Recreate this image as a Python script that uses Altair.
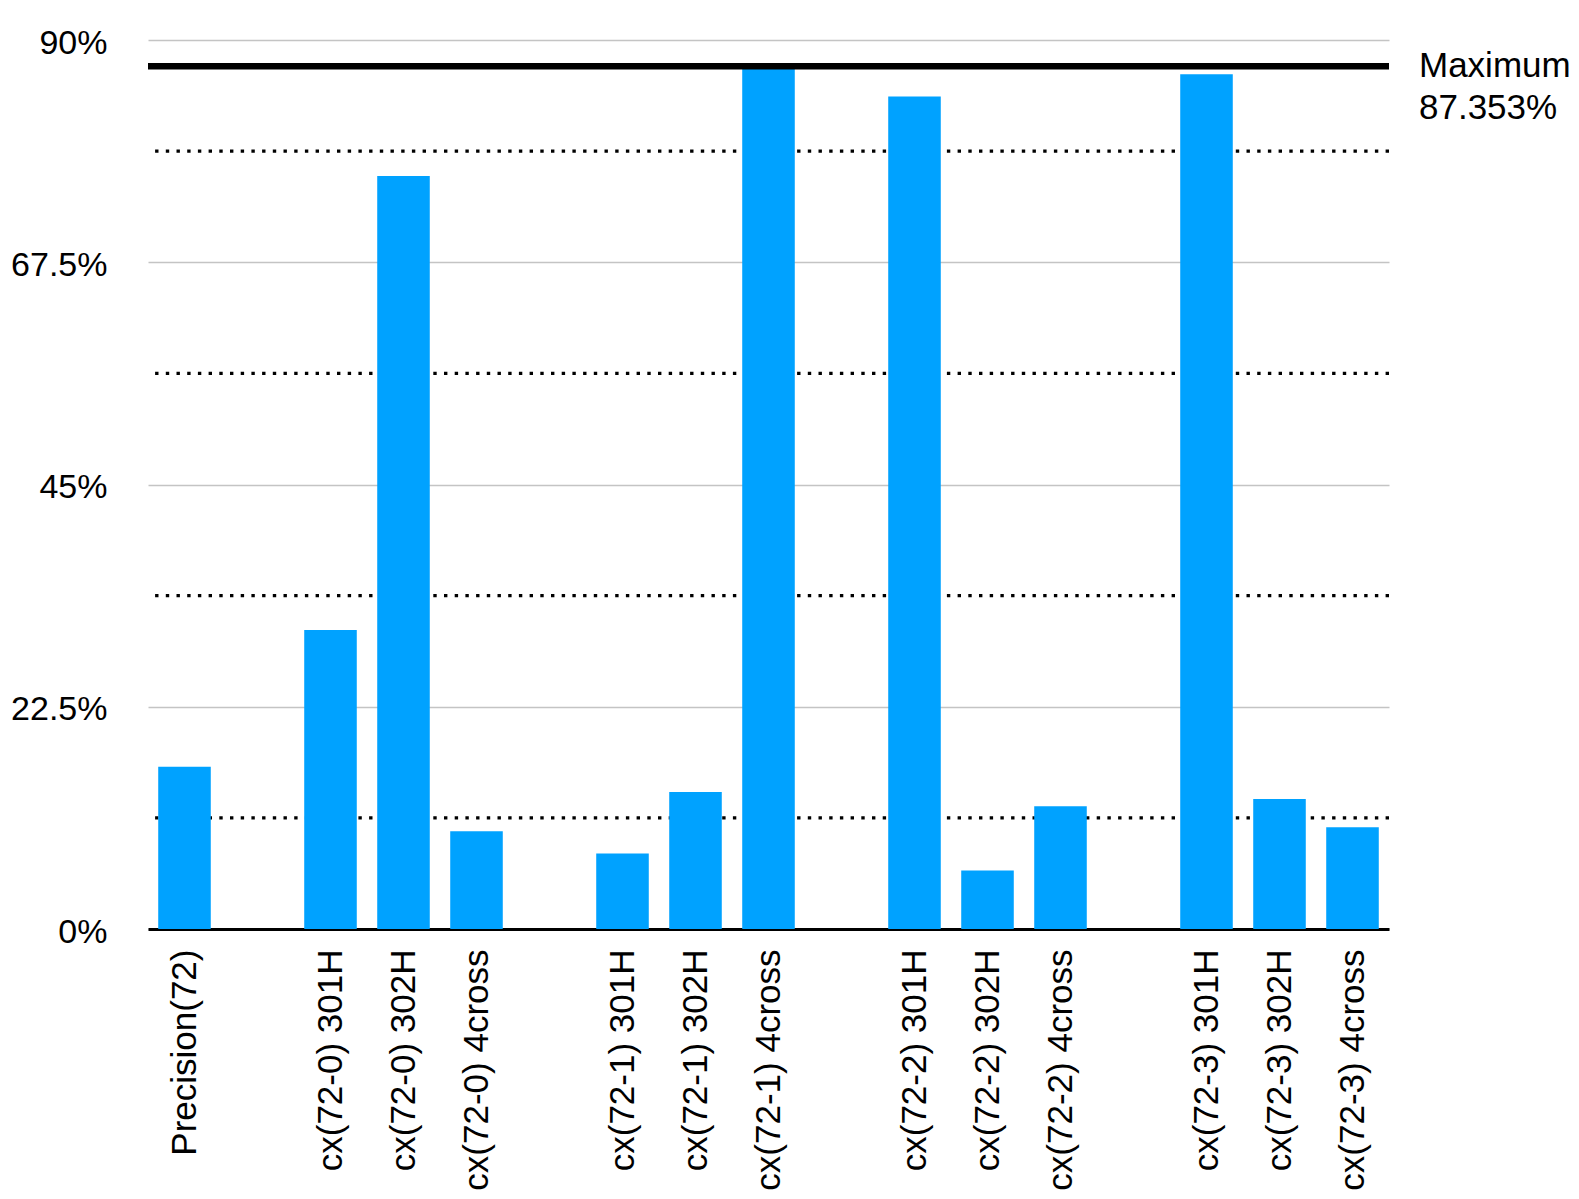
import altair as alt
import pandas as pd

# ---- data ----
categories = [
    "Precision(72)",
    "cx(72-0) 301H", "cx(72-0) 302H", "cx(72-0) 4cross",
    "cx(72-1) 301H", "cx(72-1) 302H", "cx(72-1) 4cross",
    "cx(72-2) 301H", "cx(72-2) 302H", "cx(72-2) 4cross",
    "cx(72-3) 301H", "cx(72-3) 302H", "cx(72-3) 4cross",
]
values = [16.42, 30.27, 76.24, 9.89, 7.64, 13.86, 87.353, 84.29, 5.91, 12.43, 86.53, 13.15, 10.29]
slot_order = [
    "Precision(72)", "_gap1",
    "cx(72-0) 301H", "cx(72-0) 302H", "cx(72-0) 4cross", "_gap2",
    "cx(72-1) 301H", "cx(72-1) 302H", "cx(72-1) 4cross", "_gap3",
    "cx(72-2) 301H", "cx(72-2) 302H", "cx(72-2) 4cross", "_gap4",
    "cx(72-3) 301H", "cx(72-3) 302H", "cx(72-3) 4cross",
]
y_ticks = [0, 22.5, 45, 67.5, 90]
dotted_levels = [11.25, 33.75, 56.25, 78.75]
max_value = 87.353
max_label = "Maximum\n87.353%"

FONT = "Liberation Sans"
FS = 35
W, H = 1241, 889

bars_df = pd.DataFrame({"cat": categories, "val": values})
dots_df = pd.DataFrame({"level": dotted_levels})
max_df = pd.DataFrame({"max": [max_value], "label": [max_label]})

yscale = alt.Scale(domain=[0, 90], nice=False, zero=True)
xscale = alt.Scale(domain=slot_order, paddingInner=0.28, paddingOuter=0.14)

y_axis = alt.Axis(
    values=y_ticks,
    labelExpr="datum.value + '%'",
    labelFont=FONT,
    labelFontSize=34,
    labelColor="black",
    labelPadding=41,
    labelOffset=3,
    ticks=False,
    domain=False,
    grid=True,
    gridColor="#C4C4C4",
    gridWidth=1.5,
)

dots = alt.Chart(dots_df).mark_rule(
    color="black", strokeWidth=3.4, strokeDash=[3.4, 7.3]
).encode(y=alt.Y("level:Q", scale=yscale, axis=y_axis, title=None))

bars = alt.Chart(bars_df).mark_bar(color="#00A2FF").encode(
    x=alt.X(
        "cat:N",
        scale=xscale,
        sort=slot_order,
        title=None,
        axis=alt.Axis(
            labelAngle=-90,
            labelFont=FONT,
            labelFontSize=FS,
            labelColor="black",
            labelPadding=20,
            labelLimit=400,
            ticks=False,
            domainColor="black",
            domainWidth=3,
            labelExpr="indexof(datum.label, '_gap') == 0 ? '' : datum.label",
        ),
    ),
    y=alt.Y("val:Q", scale=yscale, title=None, axis=y_axis),
)

max_rule = alt.Chart(max_df).mark_rule(color="black", strokeWidth=6.5).encode(
    y=alt.Y("max:Q", scale=yscale, axis=y_axis, title=None)
)

max_text = alt.Chart(max_df).mark_text(
    align="left", baseline="middle", font=FONT, fontSize=FS,
    lineBreak="\n", lineHeight=42, color="black"
).encode(
    y=alt.Y("max:Q", scale=yscale, axis=y_axis, title=None),
    x=alt.value(W + 30),
    text="label:N",
)

chart = alt.layer(dots, bars, max_rule, max_text).properties(
    width=W,
    height=H,
    background="white",
    autosize=alt.AutoSizeParams(type="none"),
    padding={"left": 140, "top": 32, "right": 182, "bottom": 262},
).configure_view(stroke=None)

chart.save("out.html", embed_options={"renderer": "svg", "actions": False})
